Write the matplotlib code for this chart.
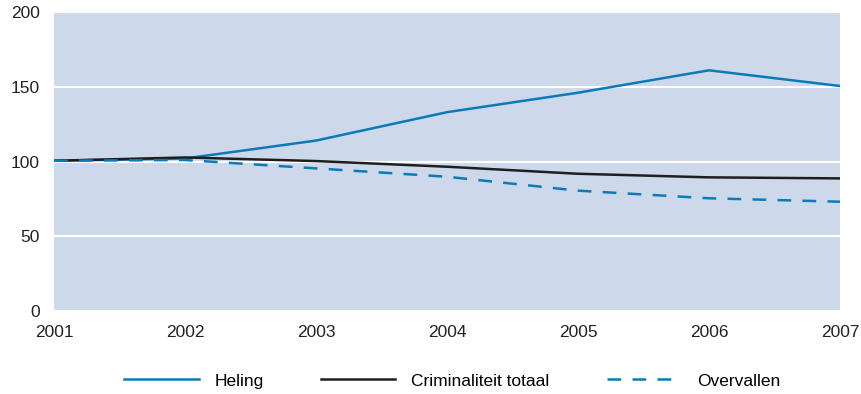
import matplotlib.pyplot as plt

# jaren en indexcijfers (2001 = 100)
years = [2001, 2002, 2003, 2004, 2005, 2006, 2007]
heling = [100.5, 102, 114, 133, 146, 161, 150.5]
criminaliteit = [100.5, 102.7, 100.3, 96.5, 91.8, 89.4, 88.7]
overvallen = [100.5, 101, 95.4, 89.8, 80.5, 75.4, 73.1]

blue = '#0b7ab8'
dark = '#1e1e1e'

plt.rcParams['font.family'] = ['Liberation Sans', 'DejaVu Sans']
plt.rcParams['font.size'] = 12.5

fig = plt.figure(figsize=(8.61, 3.94), dpi=100)
ax = fig.add_axes([0.0627, 0.2107, 0.9129, 0.7588])
ax.set_facecolor('#cdd9ea')

ax.plot(years, heling, color=blue, lw=1.8, label='Heling')
ax.plot(years, criminaliteit, color=dark, lw=1.8, label='Criminaliteit totaal')
ax.plot(years, overvallen, color=blue, lw=1.8, linestyle=(0, (5.5, 4.5)), label='Overvallen')

ax.set_xlim(2001, 2007)
ax.set_ylim(0, 200)
ax.set_yticks([0, 50, 100, 150, 200])
ax.set_xticks(years)
ax.yaxis.grid(True, color='white', lw=1.5)
ax.set_axisbelow(True)
for s in ax.spines.values():
    s.set_visible(False)
ax.tick_params(length=0, colors='#222222')
ax.tick_params(axis='y', pad=10)
ax.tick_params(axis='x', pad=10)

fig.legend(loc='center', bbox_to_anchor=(0.525, 0.033), ncol=3, frameon=False,
           handlelength=4.3, handletextpad=0.9, columnspacing=3.3)

fig.savefig('out.png', dpi=100)
